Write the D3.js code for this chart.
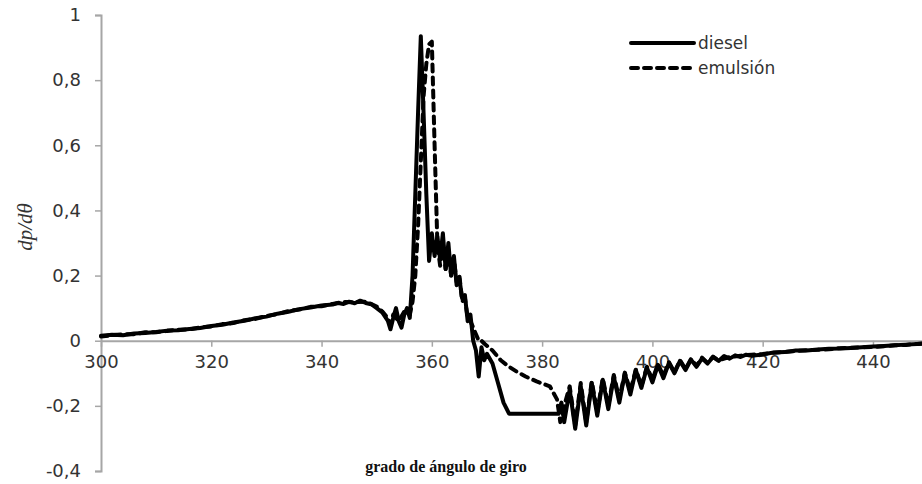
<!DOCTYPE html>
<html>
<head>
<meta charset="utf-8">
<script src="https://cdn.jsdelivr.net/npm/d3@7"></script>
<style>
  body { margin: 0; background: #fff; }
  svg { display: block; }
  .tick-label { font-family: "DejaVu Sans", sans-serif; font-size: 18px; fill: #333; }
  .legend-label { font-family: "DejaVu Sans", sans-serif; font-size: 17px; fill: #333; }
</style>
</head>
<body>
<div id="chart"></div>
<script>
// x ticks and y ticks
const xTicks = [300, 320, 340, 360, 380, 400, 420, 440];
const yTicks = [-0.4, -0.2, 0, 0.2, 0.4, 0.6, 0.8, 1];

// diesel: crank angle (deg) and dp/dθ
const dieselAngle = [
  300, 302, 304, 306, 308, 310, 312, 314, 316, 318,
  320, 322, 324, 326, 328, 330, 332, 334, 336, 338,
  340, 342, 343, 344, 345, 346, 347, 348, 349, 350,
  351, 352, 352.5, 353, 353.5, 354, 354.5, 355, 355.5, 356,
  356.5, 357, 357.5, 358, 358.5, 359, 359.5, 360, 360.5, 361,
  361.5, 362, 362.5, 363, 363.5, 364, 364.5, 365, 365.5, 366,
  366.5, 367, 367.5, 368, 368.5, 369, 369.5, 370, 371, 372,
  373, 374, 376, 378, 380, 382, 383, 383.5, 384, 385,
  386, 387, 388, 389, 390, 391, 392, 393, 394, 395,
  396, 397, 398, 399, 400, 401, 402, 403, 404, 405,
  406, 407, 408, 409, 410, 411, 412, 413, 414, 415,
  416, 417, 418, 420, 422, 424, 426, 428, 430, 432,
  434, 436, 438, 440, 442, 444, 446, 448, 450
];
const dieselValue = [
  0.015, 0.018, 0.017, 0.022, 0.024, 0.027, 0.031, 0.032, 0.036, 0.039,
  0.045, 0.049, 0.056, 0.061, 0.069, 0.074, 0.083, 0.089, 0.097, 0.102,
  0.108, 0.111, 0.116, 0.113, 0.12, 0.115, 0.123, 0.116, 0.112, 0.1,
  0.087, 0.062, 0.035, 0.07, 0.1, 0.06, 0.04, 0.08, 0.1, 0.07,
  0.2, 0.45, 0.7, 0.935, 0.7, 0.45, 0.245, 0.33, 0.26, 0.32,
  0.25, 0.33, 0.22, 0.3, 0.2, 0.26, 0.17, 0.19, 0.13, 0.14,
  0.06, 0.08, 0.0, -0.03, -0.11, -0.02, -0.06, -0.04, -0.07, -0.13,
  -0.19, -0.224, -0.224, -0.224, -0.224, -0.224, -0.224, -0.19, -0.25, -0.15,
  -0.27, -0.14, -0.26, -0.13, -0.23, -0.12, -0.21, -0.11, -0.19, -0.1,
  -0.165, -0.09, -0.145, -0.082, -0.128, -0.074, -0.115, -0.068, -0.1, -0.062,
  -0.09, -0.058, -0.08, -0.054, -0.07, -0.05, -0.062, -0.047, -0.055, -0.045,
  -0.05, -0.043, -0.046, -0.042, -0.036, -0.035, -0.03, -0.03, -0.027, -0.025,
  -0.024, -0.022, -0.02, -0.018, -0.016, -0.014, -0.012, -0.01, -0.007
];

// emulsion: crank angle (deg) and dp/dθ
const emulsionAngle = [
  300, 302, 304, 306, 308, 310, 312, 314, 316, 318,
  320, 322, 324, 326, 328, 330, 332, 334, 336, 338,
  340, 342, 344, 346, 348, 350, 351, 352, 352.5, 353,
  354, 355, 356, 356.5, 357, 357.5, 358, 358.5, 359, 359.5,
  360, 360.5, 361, 361.5, 362, 362.5, 363, 363.5, 364, 364.5,
  365, 365.5, 366, 366.5, 367, 367.5, 368, 368.5, 369, 369.6,
  371, 372.5, 374, 375.4, 377, 379, 381.4, 382.7, 383.3, 384,
  385, 386, 387, 388, 389, 390, 391, 392, 393, 394,
  395, 396, 397, 398, 399, 400, 401, 402, 403, 404,
  405, 406, 407, 408, 409, 410, 411, 412, 414, 416,
  418, 420, 422, 424, 426, 428, 430, 432, 434, 436,
  438, 440, 442, 444, 446, 448, 450
];
const emulsionValue = [
  0.013, 0.017, 0.02, 0.02, 0.026, 0.026, 0.03, 0.034, 0.035, 0.041,
  0.044, 0.051, 0.054, 0.063, 0.067, 0.076, 0.082, 0.091, 0.096, 0.104,
  0.106, 0.113, 0.119, 0.118, 0.12, 0.105, 0.09, 0.07, 0.05, 0.08,
  0.06, 0.09, 0.08, 0.12, 0.2, 0.35, 0.55, 0.75, 0.85, 0.91,
  0.918, 0.6, 0.3, 0.23, 0.3, 0.22, 0.27, 0.2, 0.25, 0.18,
  0.2, 0.12, 0.13, 0.07, 0.06, 0.04, 0.02, 0.0, 0.0, -0.01,
  -0.03, -0.06, -0.08, -0.095, -0.11, -0.125, -0.14, -0.18, -0.25, -0.2,
  -0.14, -0.26, -0.13, -0.25, -0.125, -0.22, -0.115, -0.2, -0.105, -0.18,
  -0.098, -0.155, -0.088, -0.14, -0.08, -0.12, -0.072, -0.108, -0.066, -0.097,
  -0.06, -0.087, -0.056, -0.077, -0.052, -0.068, -0.049, -0.06, -0.05, -0.046,
  -0.043, -0.041, -0.037, -0.034, -0.032, -0.029, -0.028, -0.026, -0.023, -0.022,
  -0.02, -0.019, -0.017, -0.014, -0.013, -0.01, -0.008
];

const width = 922;
const height = 484;
const margin = { top: 15, left: 101, bottom: 13 };

const svg = d3.select('#chart').append('svg')
  .attr('width', width)
  .attr('height', height);

const x = d3.scaleLinear().domain([300, 450]).range([margin.left, margin.left + 150 * 5.514]);
const y = d3.scaleLinear().domain([-0.4, 1]).range([height - margin.bottom, margin.top]);

const axisColor = '#a6a6a6';
const fmt = (v) => d3.format('.1~f')(v).replace('.', ',').replace('−', '-');

// y axis
const yAxis = svg.append('g')
  .attr('transform', `translate(${margin.left},0)`)
  .call(d3.axisLeft(y).tickValues(yTicks).tickSize(6).tickPadding(14).tickFormat(fmt));
yAxis.select('.domain').attr('stroke', axisColor).attr('stroke-width', 2);
yAxis.selectAll('.tick line').attr('stroke', axisColor).attr('stroke-width', 1.5);
yAxis.selectAll('.tick text').attr('class', 'tick-label').attr('fill', null);

// x axis at y = 0
const xAxis = svg.append('g')
  .attr('transform', `translate(0,${y(0)})`)
  .call(d3.axisBottom(x).tickValues(xTicks).tickSize(6).tickSizeOuter(0).tickPadding(9).tickFormat(d3.format('d')));
xAxis.select('.domain').attr('stroke', axisColor).attr('stroke-width', 2);
xAxis.selectAll('.tick line').attr('stroke', axisColor).attr('stroke-width', 1.5);
xAxis.selectAll('.tick text').attr('class', 'tick-label').attr('fill', null);

const line = d3.line().x((d) => x(d[0])).y((d) => y(d[1]));

const series = [
  { name: 'diesel', angle: dieselAngle, value: dieselValue, dash: null },
  { name: 'emulsión', angle: emulsionAngle, value: emulsionValue, dash: '7,6' },
];

series.slice().reverse().forEach((s) => {
  svg.append('path')
    .datum(d3.zip(s.angle, s.value))
    .attr('d', line)
    .attr('fill', 'none')
    .attr('stroke', '#000')
    .attr('stroke-width', 4)
    .attr('stroke-linejoin', 'round')
    .attr('stroke-linecap', 'round')
    .attr('stroke-dasharray', s.dash);
});

// legend
const legend = svg.append('g').attr('transform', 'translate(631,43)');
series.forEach((s, i) => {
  const g = legend.append('g').attr('transform', `translate(0,${i * 25})`);
  g.append('line')
    .attr('x1', 0).attr('x2', 63)
    .attr('stroke', '#000')
    .attr('stroke-width', 4)
    .attr('stroke-linecap', 'round')
    .attr('stroke-dasharray', s.dash);
  g.append('text')
    .attr('class', 'legend-label')
    .attr('x', 67)
    .attr('dy', '0.35em')
    .text(s.name);
});

// axis titles
svg.append('text')
  .attr('transform', 'translate(32,227) rotate(-90)')
  .attr('text-anchor', 'middle')
  .attr('font-family', '"Liberation Serif", serif')
  .attr('font-style', 'italic')
  .attr('font-size', 21)
  .attr('fill', '#333')
  .text('dp/dθ');

svg.append('text')
  .attr('x', 446)
  .attr('y', 472)
  .attr('text-anchor', 'middle')
  .attr('font-family', '"Liberation Serif", serif')
  .attr('font-weight', 'bold')
  .attr('font-size', 16)
  .attr('fill', '#111')
  .text('grado de ángulo de giro');
</script>
</body>
</html>
